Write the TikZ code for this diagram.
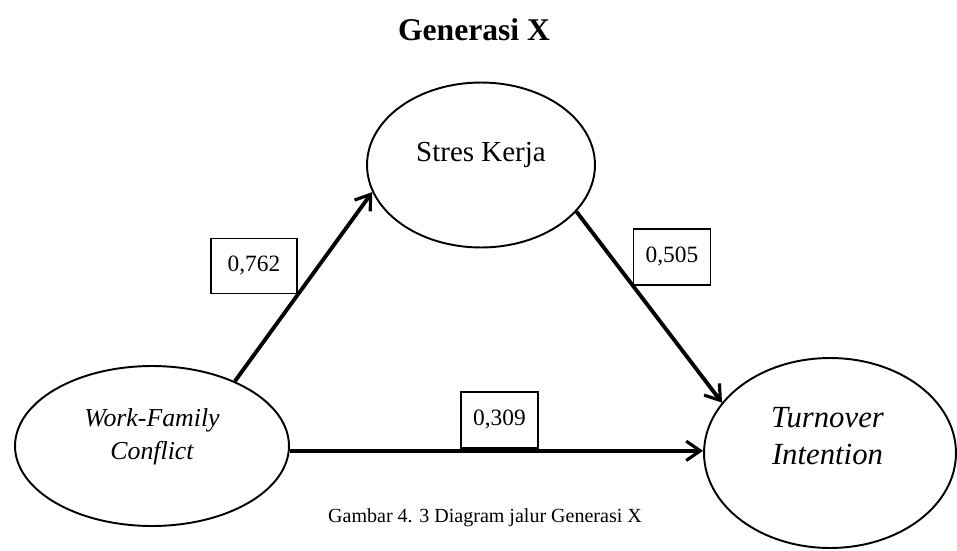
\documentclass[tikz,border=0pt]{standalone}
\usepackage{fontspec}
\setmainfont{Liberation Serif}
\usetikzlibrary{shapes.geometric, arrows.meta, positioning, calc}

\tikzset{
    construct/.style={ellipse, draw, line width=1.1pt, inner sep=0pt},
    pathline/.style={line width=2.2pt, -{Straight Barb[length=8pt, width=11pt, line width=1.8pt]}},
    coefbox/.style={draw, line width=0.6pt, minimum width=1.54cm, minimum height=1.12cm, inner sep=0pt, font=\fontsize{13.3}{16}\selectfont}
}

\begin{document}
\begin{tikzpicture}[x=0.02cm, y=-0.02cm]
    \useasboundingbox (0,0) rectangle (957,551);

    % =========================================================
    % TITLE
    % =========================================================
    \node[font=\fontsize{18}{22}\selectfont\bfseries] (title) at (474,30) {Generasi X};

    % =========================================================
    % CONSTRUCTS
    % =========================================================
    \node[construct, minimum width=5.48cm, minimum height=3.2cm] (wfc) at (152,446) {};
    \node[construct, minimum width=4.56cm, minimum height=3.3cm] (sk) at (481,165) {};
    \node[construct, minimum width=5.04cm, minimum height=3.8cm] (ti) at (830,453) {};

    \node[font=\fontsize{14.7}{18.7}\selectfont\itshape, align=center] (wfctext) at ([yshift=0.18cm]wfc.center) {Work-Family\\Conflict};
    \node[font=\fontsize{16.5}{20}\selectfont] (sktext) at ([yshift=0.2cm]sk.center) {Stres Kerja};
    \node[font=\fontsize{17.5}{21}\selectfont\itshape, align=center] (titext) at ([yshift=0.34cm, xshift=-0.05cm]ti.center) {Turnover\\Intention};

    % =========================================================
    % PATHS
    % =========================================================
    \draw[pathline] (wfc.38) -- (sk.194);
    \draw[pathline] (sk.334) -- (ti.155.8);
    \draw[pathline] (wfc.-2.5) -- (wfc.-2.5 -| ti.west);

    % Path coefficients
    \node[coefbox, minimum width=1.72cm, minimum height=1.1cm] (c1) at (254,266) {0,762};
    \node[coefbox] (c2) at (672,257) {0,505};
    \node[coefbox] (c3) at (499.5,420) {0,309};

    % =========================================================
    % CAPTION
    % =========================================================
    \node[font=\fontsize{11.4}{14}\selectfont] (caption) at (485,518) {Gambar 4. 3 Diagram jalur Generasi X};
\end{tikzpicture}
\end{document}
